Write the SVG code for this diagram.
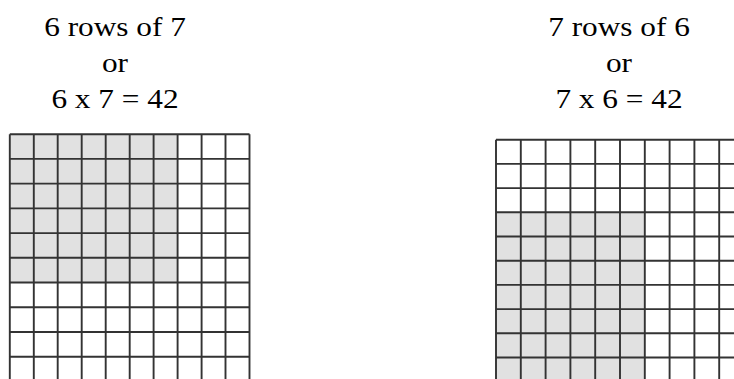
<svg xmlns="http://www.w3.org/2000/svg" width="734" height="379" viewBox="0 0 734 379">
<style>
.lbl{font-family:"Liberation Serif","Times New Roman",Times,serif;font-size:27px;fill:#000;text-anchor:middle}
.grid{fill:none;stroke:#333;stroke-width:1.9}
.shade{fill:#e1e1e1}
</style>
<rect width="734" height="379" fill="#fff"/>
<g id="left-label" transform="translate(115,0) scale(1.16,1)">
<text class="lbl" x="0" y="36">6 rows of 7</text>
<text class="lbl" x="0" y="72.3">or</text>
<text class="lbl" x="0" y="108.5">6 x 7 = 42</text>
</g>
<g id="right-label" transform="translate(619,0) scale(1.16,1)">
<text class="lbl" x="0" y="36">7 rows of 6</text>
<text class="lbl" x="0" y="72.3">or</text>
<text class="lbl" x="0" y="108.5">7 x 6 = 42</text>
</g>
<g id="left-grid">
<rect class="shade" x="9.8" y="134.2" width="167.8" height="148.3"/>
<path class="grid" d="M9.8 134.2V381.4M33.8 134.2V381.4M57.7 134.2V381.4M81.7 134.2V381.4M105.7 134.2V381.4M129.7 134.2V381.4M153.6 134.2V381.4M177.6 134.2V381.4M201.6 134.2V381.4M225.5 134.2V381.4M249.5 134.2V381.4M9.8 134.2H249.5M9.8 158.9H249.5M9.8 183.6H249.5M9.8 208.4H249.5M9.8 233.1H249.5M9.8 257.8H249.5M9.8 282.5H249.5M9.8 307.2H249.5M9.8 332H249.5M9.8 356.7H249.5M9.8 381.4H249.5"/>
</g>
<g id="right-grid">
<rect class="shade" x="496" y="212.3" width="148.8" height="169.4"/>
<path class="grid" d="M496 139.7V381.7M520.8 139.7V381.7M545.6 139.7V381.7M570.4 139.7V381.7M595.2 139.7V381.7M620 139.7V381.7M644.8 139.7V381.7M669.6 139.7V381.7M694.4 139.7V381.7M719.2 139.7V381.7M744 139.7V381.7M496 139.7H744M496 163.9H744M496 188.1H744M496 212.3H744M496 236.5H744M496 260.7H744M496 284.9H744M496 309.1H744M496 333.3H744M496 357.5H744M496 381.7H744"/>
</g>
</svg>
